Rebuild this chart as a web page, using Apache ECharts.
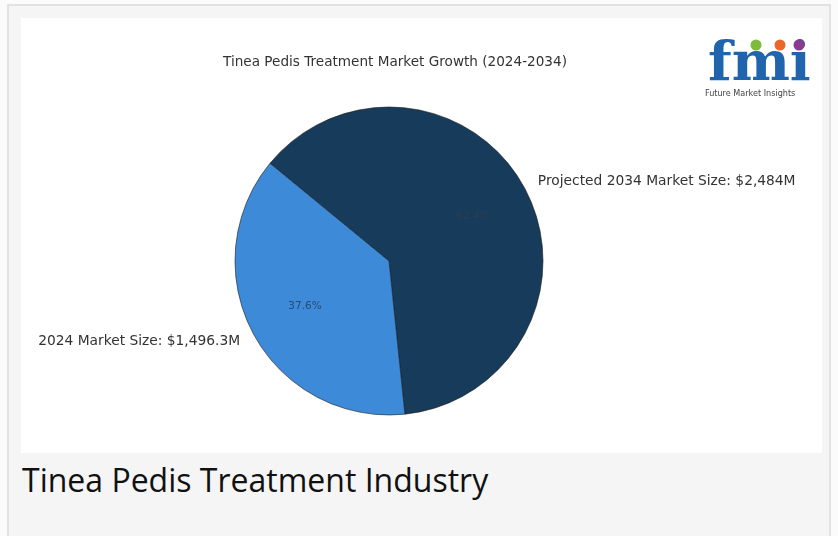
<!DOCTYPE html>
<html>
<head>
<meta charset="utf-8">
<script src="https://cdn.jsdelivr.net/npm/echarts@6/dist/echarts.min.js"></script>
<style>
  html, body { margin: 0; padding: 0; background: #fbfbfb; width: 838px; height: 536px; overflow: hidden; }
  #frame { position: absolute; left: 7px; top: 4px; width: 824px; height: 540px; background: #f5f5f5; border: 2px solid #e2e2e2; box-sizing: border-box; }
  #chart { position: absolute; left: 21px; top: 18px; width: 801px; height: 435px; background: #ffffff; }
  #caption { position: absolute; left: 22px; top: 458px; font-family: "Open Sans", sans-serif; font-size: 32px; color: #111; white-space: nowrap; }
</style>
</head>
<body>
<div id="frame"></div>
<div id="chart"></div>
<div id="caption">Tinea Pedis Treatment Industry</div>
<script>
// ---- data ----
const chartTitle = "Tinea Pedis Treatment Market Growth (2024-2034)";
const categories = ["Projected 2034 Market Size: $2,484M", "2024 Market Size: $1,496.3M"];
const values = [2484, 1496.3];
const sliceColors = ["#173b5b", "#3c8ad8"];
const pctColors = ["#2c3e4e", "#2b4b73"];

const chart = echarts.init(document.getElementById('chart'), null, { renderer: 'canvas' });
const cx = 368, cy = 243, R = 154;

const option = {
  backgroundColor: '#ffffff',
  animation: false,
  title: {
    text: chartTitle,
    left: 369, top: 32, textAlign: 'center',
    textStyle: { fontFamily: 'DejaVu Sans', fontSize: 13.6, fontWeight: 'normal', color: '#333' }
  },
  series: [
    {
      type: 'pie',
      center: [cx, cy],
      radius: [0, R],
      startAngle: 140.6,
      clockwise: true,
      silent: true,
      avoidLabelOverlap: false,
      itemStyle: { borderColor: '#1a1a1a', borderWidth: 0.6 },
      label: {
        show: true, position: 'outside', formatter: '{b}',
        fontFamily: 'DejaVu Sans', fontSize: 13.8, color: '#333', distanceToLabelLine: 0
      },
      labelLine: { show: false, length: 15, length2: 0 },
      data: categories.map((c, i) => ({ name: c, value: values[i], itemStyle: { color: sliceColors[i] } }))
    },
    {
      type: 'pie',
      center: [cx, cy],
      radius: [R * 0.2, R],
      startAngle: 140.6,
      clockwise: true,
      silent: true,
      percentPrecision: 1,
      itemStyle: { color: 'rgba(0,0,0,0)' },
      label: {
        show: true, position: 'inside', formatter: '{d}%',
        fontFamily: 'DejaVu Sans', fontSize: 10.5
      },
      labelLine: { show: false },
      data: categories.map((c, i) => ({ name: c, value: values[i], label: { color: pctColors[i] } }))
    }
  ],
  graphic: [
    { type: 'text', left: 687, top: 20, style: { text: 'fmi', font: 'bold 55px "DejaVu Serif"', fill: '#1f64ad' } },
    { type: 'circle', shape: { cx: 735, cy: 27, r: 5.5 }, style: { fill: '#7dbb3c' } },
    { type: 'circle', shape: { cx: 759, cy: 27, r: 5.5 }, style: { fill: '#e8682a' } },
    { type: 'circle', shape: { cx: 778, cy: 27, r: 5.5 }, style: { fill: '#8a3a8f' } },
    { type: 'text', left: 684, top: 71, style: { text: 'Future Market Insights', font: '9px "DejaVu Sans Condensed", sans-serif', fill: '#444' } }
  ]
};
chart.setOption(option);
</script>
</body>
</html>
